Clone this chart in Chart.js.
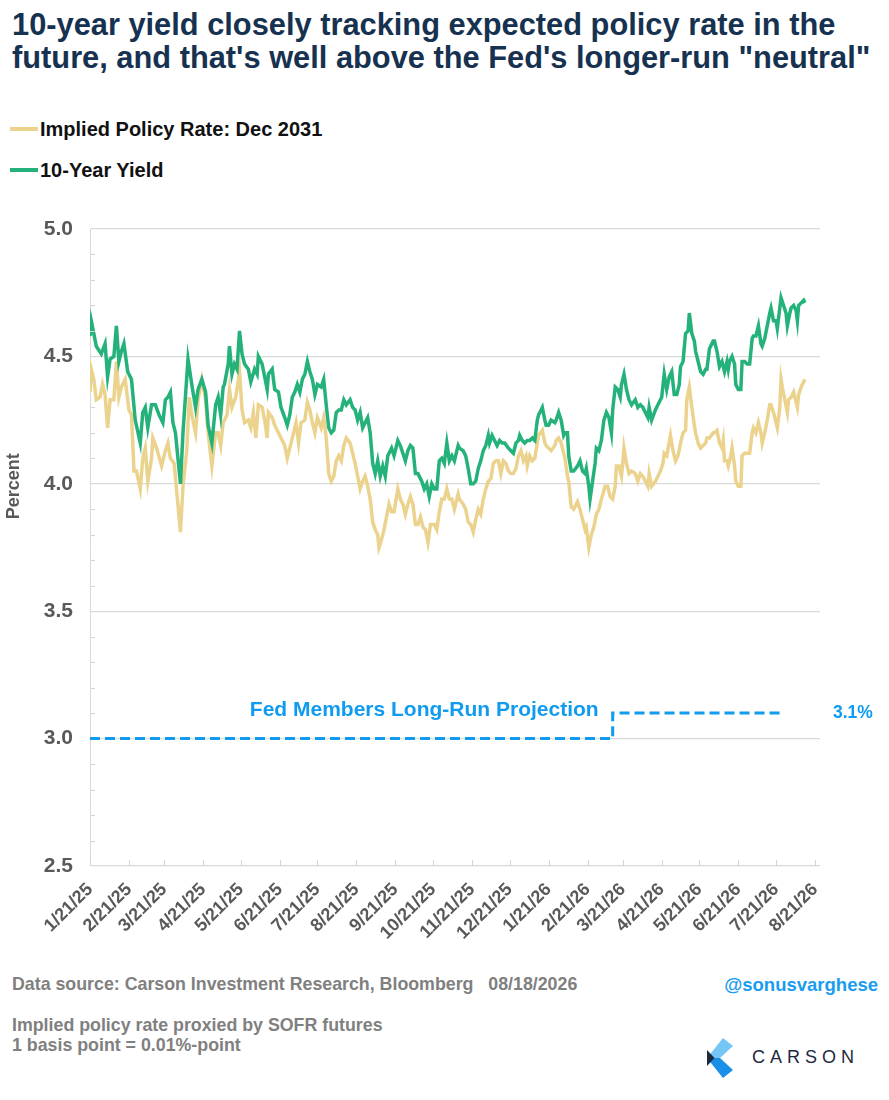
<!DOCTYPE html>
<html>
<head>
<meta charset="utf-8">
<script src="https://cdn.jsdelivr.net/npm/chart.js@4.4.1/dist/chart.umd.min.js"></script>
<style>
  body { margin: 0; background: #fff; font-family: Arial, "Liberation Sans", sans-serif; }
  #page { position: relative; width: 889px; height: 1100px; overflow: hidden; }
  .title { position: absolute; left: 12px; top: 8px; font-size: 30.8px; font-weight: bold; color: #163250; line-height: 33px; white-space: nowrap; }
  .legend { position: absolute; left: 10px; font-size: 20px; font-weight: bold; color: #111; }
  .legend span { display: inline-block; width: 28px; height: 4px; vertical-align: middle; margin-right: 2px; position: relative; top: -2px; }
  #chartBox { position: absolute; left: 0; top: 190px; }
  .foot { position: absolute; left: 12px; font-size: 17.8px; font-weight: bold; color: #808080; white-space: nowrap; }
  .handle { position: absolute; right: 11px; top: 974px; font-size: 18.5px; font-weight: bold; color: #1a9cf0; }
  .logo { position: absolute; left: 705px; top: 1037px; }
  .logo b { position: absolute; left: 47px; top: 10px; font-size: 18px; font-weight: normal; letter-spacing: 5px; color: #1b2a3f; }
</style>
</head>
<body>
<div id="page">
  <div class="title">10-year yield closely tracking expected policy rate in the<br>future, and that's well above the Fed's longer-run "neutral"</div>
  <div class="legend" style="top:118px"><span style="background:#ebd38e"></span>Implied Policy Rate: Dec 2031</div>
  <div class="legend" style="top:159px"><span style="background:#24b27a"></span>10-Year Yield</div>
  <div id="chartBox"><canvas id="chart" width="889" height="770"></canvas></div>
  <div class="foot" style="top:974px">Data source: Carson Investment Research, Bloomberg &nbsp;&nbsp;08/18/2026</div>
  <div class="handle">@sonusvarghese</div>
  <div class="foot" style="top:1015px">Implied policy rate proxied by SOFR futures</div>
  <div class="foot" style="top:1035px">1 basis point = 0.01%-point</div>
  <div class="logo">
    <svg width="32" height="42" viewBox="0 0 32 42">
      <polygon points="2,21 18,1 28,9 15,21" fill="#74c6f7"/>
      <polygon points="2,21 15,21 28,33 18,41" fill="#1a8fe8"/>
      <polygon points="2,13 9.5,21 2,29" fill="#1b2a3f"/>
    </svg>
    <b>CARSON</b>
  </div>
</div>
<script>
// x axis labels (21st of each month)
const xTickLabels = ['1/21/25','2/21/25','3/21/25','4/21/25','5/21/25','6/21/25','7/21/25','8/21/25','9/21/25','10/21/25',
  '11/21/25','12/21/25','1/21/26','2/21/26','3/21/26','4/21/26','5/21/26','6/21/26','7/21/26','8/21/26'];

// 10-year yield
const yieldDates = ['1/21/25','1/22/25','1/26/25','1/30/25','2/2/25','2/4/25','2/6/25','2/9/25','2/11/25','2/13/25','2/15/25','2/17/25','2/20/25','2/23/25','2/26/25',
  '3/2/25','3/4/25','3/6/25','3/8/25','3/11/25','3/14/25','3/17/25','3/20/25','3/22/25','3/24/25','3/26/25','3/28/25','3/30/25',
  '4/3/25','4/5/25','4/9/25','4/12/25','4/15/25','4/17/25','4/20/25','4/23/25','4/25/25','4/28/25',
  '5/1/25','5/3/25','5/5/25','5/7/25','5/8/25','5/11/25','5/12/25','5/14/25','5/16/25','5/18/25','5/20/25','5/22/25','5/24/25','5/27/25','5/29/25',
  '6/1/25','6/3/25','6/4/25','6/7/25','6/9/25','6/11/25','6/12/25','6/15/25','6/17/25','6/20/25','6/22/25','6/25/25','6/27/25','6/29/25',
  '7/1/25','7/3/25','7/5/25','7/7/25','7/9/25','7/11/25','7/13/25','7/15/25','7/17/25','7/19/25','7/21/25','7/24/25','7/26/25','7/28/25','7/30/25',
  '8/1/25','8/3/25','8/5/25','8/7/25','8/9/25','8/11/25','8/13/25','8/16/25','8/18/25','8/20/25','8/22/25','8/24/25','8/26/25','8/28/25','8/30/25',
  '9/1/25','9/3/25','9/5/25','9/7/25','9/9/25','9/11/25','9/13/25','9/15/25','9/18/25','9/20/25','9/23/25','9/25/25','9/27/25','9/29/25',
  '10/1/25','10/3/25','10/5/25','10/7/25','10/9/25','10/12/25','10/14/25','10/16/25','10/18/25','10/20/25','10/22/25','10/24/25','10/26/25','10/28/25','10/30/25',
  '11/1/25','11/3/25','11/5/25','11/7/25','11/10/25','11/11/25','11/14/25','11/16/25','11/18/25','11/20/25','11/22/25','11/24/25','11/26/25','11/28/25','11/30/25',
  '12/2/25','12/4/25','12/5/25','12/7/25','12/9/25','12/11/25','12/13/25','12/15/25','12/17/25','12/20/25','12/22/25','12/24/25','12/26/25','12/28/25','12/29/25','12/31/25',
  '1/2/26','1/4/26','1/6/26','1/8/26','1/10/26','1/12/26','1/13/26','1/16/26','1/18/26','1/19/26','1/21/26','1/23/26','1/26/26','1/27/26','1/29/26','1/31/26',
  '2/2/26','2/3/26','2/5/26','2/6/26','2/8/26','2/10/26','2/13/26','2/15/26','2/17/26','2/19/26','2/20/26','2/22/26','2/23/26','2/25/26','2/27/26','2/28/26',
  '3/2/26','3/4/26','3/6/26','3/8/26','3/10/26','3/12/26','3/13/26','3/15/26','3/17/26','3/19/26','3/20/26','3/22/26','3/24/26','3/26/26','3/28/26','3/31/26',
  '4/2/26','4/4/26','4/6/26','4/8/26','4/10/26','4/11/26','4/13/26','4/16/26','4/18/26','4/20/26','4/21/26','4/23/26','4/25/26','4/27/26','4/29/26',
  '5/1/26','5/3/26','5/5/26','5/6/26','5/8/26','5/10/26','5/12/26','5/13/26','5/15/26','5/17/26','5/18/26','5/20/26','5/22/26','5/24/26','5/26/26','5/27/26','5/29/26',
  '6/1/26','6/2/26','6/4/26','6/6/26','6/8/26','6/9/26','6/10/26','6/12/26','6/13/26','6/14/26','6/16/26','6/18/26','6/19/26','6/21/26','6/23/26','6/24/26','6/26/26','6/28/26','6/30/26',
  '7/2/26','7/3/26','7/5/26','7/7/26','7/9/26','7/10/26','7/12/26','7/14/26','7/16/26','7/17/26','7/19/26','7/21/26','7/22/26','7/24/26','7/25/26','7/27/26','7/29/26','7/30/26',
  '8/1/26','8/2/26','8/4/26','8/6/26','8/7/26','8/8/26','8/10/26','8/12/26','8/13/26'];
const yieldValues = [4.58,4.64,4.54,4.51,4.55,4.42,4.49,4.50,4.62,4.48,4.52,4.55,4.44,4.41,4.25,
  4.16,4.28,4.30,4.22,4.31,4.31,4.27,4.24,4.33,4.34,4.36,4.24,4.20,
  4.00,4.20,4.49,4.39,4.30,4.37,4.41,4.36,4.23,4.16,
  4.31,4.34,4.27,4.38,4.39,4.47,4.54,4.43,4.47,4.45,4.60,4.51,4.47,4.45,4.40,
  4.45,4.43,4.50,4.47,4.42,4.37,4.43,4.45,4.37,4.36,4.30,4.26,4.23,4.27,
  4.34,4.36,4.39,4.36,4.41,4.43,4.48,4.44,4.41,4.35,4.39,4.38,4.41,4.31,4.22,
  4.20,4.21,4.28,4.29,4.29,4.33,4.31,4.33,4.30,4.29,4.25,4.28,4.22,4.24,4.26,
  4.20,4.08,4.04,4.09,4.03,4.07,4.03,4.11,4.14,4.11,4.17,4.15,4.12,4.09,
  4.13,4.15,4.14,4.04,4.04,4.01,3.98,4.00,3.95,4.00,3.98,3.98,4.09,4.10,4.08,
  4.16,4.09,4.11,4.09,4.15,4.14,4.13,4.11,4.06,4.00,4.00,4.01,4.06,4.09,4.13,
  4.15,4.19,4.16,4.19,4.17,4.15,4.17,4.16,4.16,4.14,4.13,4.12,4.16,4.17,4.19,4.17,
  4.16,4.17,4.17,4.18,4.17,4.25,4.27,4.30,4.25,4.23,4.23,4.25,4.24,4.25,4.28,4.25,
  4.19,4.20,4.20,4.11,4.05,4.05,4.07,4.09,4.05,4.04,4.06,3.99,3.94,4.01,4.08,4.14,
  4.13,4.17,4.25,4.28,4.26,4.20,4.29,4.38,4.37,4.34,4.39,4.43,4.37,4.33,4.31,4.33,
  4.30,4.31,4.30,4.28,4.26,4.30,4.25,4.29,4.31,4.33,4.34,4.43,4.37,4.42,4.44,
  4.35,4.35,4.39,4.46,4.48,4.59,4.60,4.67,4.59,4.56,4.52,4.48,4.44,4.43,4.45,4.45,4.53,
  4.56,4.56,4.52,4.46,4.48,4.46,4.44,4.48,4.45,4.48,4.50,4.47,4.39,4.37,4.37,4.48,4.48,4.47,4.47,
  4.57,4.58,4.58,4.62,4.55,4.54,4.57,4.62,4.67,4.69,4.64,4.64,4.61,4.69,4.73,4.70,4.67,4.62,
  4.67,4.69,4.70,4.68,4.64,4.70,4.71,4.72,4.71];

// implied policy rate, Dec 2031 SOFR
const policyDates = ['1/21/25','1/22/25','1/24/25','1/26/25','1/29/25','1/31/25','2/2/25','2/4/25','2/6/25','2/9/25','2/11/25','2/13/25','2/15/25','2/18/25','2/21/25','2/23/25','2/25/25','2/27/25',
  '3/2/25','3/4/25','3/6/25','3/8/25','3/11/25','3/12/25','3/15/25','3/19/25','3/22/25','3/24/25','3/26/25','3/29/25','3/31/25',
  '4/3/25','4/5/25','4/8/25','4/10/25','4/12/25','4/15/25','4/17/25','4/20/25','4/23/25','4/25/25','4/28/25',
  '5/1/25','5/3/25','5/5/25','5/7/25','5/10/25','5/12/25','5/14/25','5/17/25','5/20/25','5/22/25','5/24/25','5/27/25','5/29/25','5/31/25',
  '6/2/25','6/4/25','6/7/25','6/9/25','6/11/25','6/12/25','6/15/25','6/17/25','6/20/25','6/22/25','6/25/25','6/27/25','6/29/25',
  '7/2/25','7/4/25','7/6/25','7/8/25','7/11/25','7/13/25','7/15/25','7/17/25','7/19/25','7/21/25','7/24/25','7/26/25','7/28/25','7/30/25',
  '8/1/25','8/3/25','8/5/25','8/7/25','8/9/25','8/11/25','8/13/25','8/16/25','8/18/25','8/20/25','8/22/25','8/24/25','8/26/25','8/28/25','8/30/25',
  '9/1/25','9/3/25','9/5/25','9/7/25','9/8/25','9/10/25','9/12/25','9/14/25','9/16/25','9/18/25','9/20/25','9/23/25','9/25/25','9/27/25','9/29/25',
  '10/1/25','10/3/25','10/5/25','10/7/25','10/9/25','10/11/25','10/13/25','10/15/25','10/17/25','10/19/25','10/22/25','10/24/25','10/26/25','10/28/25','10/30/25',
  '11/1/25','11/3/25','11/5/25','11/7/25','11/10/25','11/11/25','11/14/25','11/16/25','11/18/25','11/20/25','11/22/25','11/24/25','11/26/25','11/28/25','11/30/25',
  '12/2/25','12/4/25','12/6/25','12/8/25','12/10/25','12/12/25','12/14/25','12/16/25','12/18/25','12/20/25','12/22/25','12/24/25','12/26/25','12/28/25','12/30/25',
  '1/1/26','1/3/26','1/4/26','1/6/26','1/8/26','1/10/26','1/12/26','1/13/26','1/16/26','1/18/26','1/19/26','1/21/26','1/23/26','1/26/26','1/27/26','1/29/26','1/31/26',
  '2/3/26','2/5/26','2/6/26','2/8/26','2/10/26','2/13/26','2/15/26','2/17/26','2/19/26','2/20/26','2/22/26','2/24/26','2/26/26','2/28/26',
  '3/2/26','3/4/26','3/7/26','3/9/26','3/11/26','3/13/26','3/15/26','3/16/26','3/18/26','3/20/26','3/21/26','3/22/26','3/24/26','3/26/26','3/28/26','3/31/26',
  '4/2/26','4/4/26','4/6/26','4/8/26','4/10/26','4/11/26','4/13/26','4/16/26','4/18/26','4/20/26','4/22/26','4/23/26','4/25/26','4/28/26','4/30/26',
  '5/2/26','5/4/26','5/6/26','5/8/26','5/10/26','5/11/26','5/13/26','5/15/26','5/17/26','5/18/26','5/20/26','5/22/26','5/24/26','5/26/26','5/27/26','5/29/26',
  '6/1/26','6/2/26','6/4/26','6/6/26','6/8/26','6/9/26','6/10/26','6/12/26','6/13/26','6/15/26','6/16/26','6/18/26','6/19/26','6/21/26','6/23/26','6/24/26','6/26/26','6/28/26','6/30/26',
  '7/2/26','7/3/26','7/5/26','7/7/26','7/9/26','7/10/26','7/12/26','7/14/26','7/16/26','7/17/26','7/19/26','7/21/26','7/22/26','7/24/26','7/25/26','7/26/26','7/28/26','7/30/26','7/31/26',
  '8/2/26','8/4/26','8/5/26','8/7/26','8/8/26','8/10/26','8/12/26','8/13/26'];
const policyValues = [4.36,4.45,4.41,4.33,4.34,4.39,4.35,4.22,4.33,4.33,4.48,4.34,4.38,4.41,4.29,4.27,4.05,4.05,
  3.98,4.10,4.14,4.01,4.10,4.18,4.14,4.07,4.13,4.16,4.10,4.08,3.97,
  3.81,3.99,4.13,4.34,4.27,4.20,4.33,4.41,4.33,4.20,4.07,
  4.20,4.20,4.15,4.24,4.27,4.37,4.30,4.34,4.44,4.29,4.24,4.25,4.22,4.28,
  4.18,4.31,4.30,4.25,4.18,4.28,4.26,4.23,4.20,4.18,4.15,4.10,4.14,
  4.20,4.24,4.16,4.24,4.25,4.32,4.29,4.24,4.20,4.26,4.22,4.26,4.18,4.04,
  4.01,4.03,4.09,4.11,4.09,4.15,4.18,4.16,4.12,4.08,4.03,3.98,4.01,4.03,3.99,
  3.94,3.85,3.82,3.80,3.75,3.78,3.82,3.87,3.92,3.89,3.89,3.98,3.94,3.92,3.88,
  3.92,3.95,3.92,3.84,3.84,3.87,3.83,3.82,3.77,3.84,3.84,3.82,3.89,3.94,3.94,
  3.98,3.94,3.94,3.90,3.96,3.94,3.92,3.90,3.85,3.84,3.81,3.86,3.90,3.88,3.94,
  3.98,4.01,4.02,4.08,4.09,4.09,4.04,4.09,4.08,4.05,4.04,4.04,4.06,4.11,4.13,
  4.09,4.11,4.07,4.11,4.09,4.10,4.16,4.19,4.21,4.16,4.15,4.14,4.13,4.15,4.17,4.18,4.16,
  4.10,4.03,4.01,3.91,3.90,3.93,3.90,3.86,3.82,3.83,3.75,3.80,3.83,3.88,
  3.90,3.94,3.99,3.99,3.95,3.94,3.99,4.07,4.07,4.03,4.08,4.14,4.08,4.04,4.05,4.04,
  4.01,4.04,4.03,4.01,3.99,4.04,3.99,4.01,4.03,4.05,4.08,4.12,4.11,4.19,4.13,
  4.09,4.11,4.16,4.20,4.21,4.33,4.38,4.30,4.23,4.20,4.16,4.14,4.15,4.16,4.18,4.18,
  4.20,4.20,4.21,4.16,4.14,4.17,4.09,4.09,4.07,4.11,4.14,4.07,4.01,3.99,3.99,4.11,4.12,4.12,4.12,
  4.20,4.22,4.20,4.24,4.20,4.16,4.20,4.25,4.31,4.31,4.28,4.24,4.22,4.30,4.41,4.38,4.33,4.28,4.33,
  4.34,4.36,4.34,4.30,4.35,4.38,4.40,4.41];

// Fed members' longer-run projection (steps up at the March SEP)
const fedDates = ['1/21/25','3/13/26','7/24/26'];
const fedRates = [3.0, 3.1, 3.1];

const DAY_MS = 86400000;
function toDay(s) {
    const [m, d, y] = s.split('/').map(Number);
    return Date.UTC(2000 + y, m - 1, d) / DAY_MS;
}
const pairs = (dates, vals) => dates.map((d, i) => ({ x: toDay(d), y: vals[i] }));

const GRAY = '#595959';
const BLUE = '#0f9cf0';
const FONT = 'Arial, "Liberation Sans"';

// inward tick marks, the y title and the blue annotations
const extras = {
    id: 'extras',
    afterDraw(chart) {
        const { ctx, chartArea: a, scales: { x, y } } = chart;
        ctx.save();
        ctx.strokeStyle = '#d4d4d4';
        ctx.lineWidth = 1;
        for (let v = 26; v < 50; v++) {
            if (v % 5 === 0) continue;
            const py = Math.round(y.getPixelForValue(v / 10)) + 0.5;
            ctx.beginPath(); ctx.moveTo(a.left, py); ctx.lineTo(a.left + 5, py); ctx.stroke();
        }
        xTickLabels.forEach(l => {
            const px = Math.round(x.getPixelForValue(toDay(l))) + 0.5;
            ctx.beginPath(); ctx.moveTo(px, a.bottom); ctx.lineTo(px, a.bottom - 6); ctx.stroke();
        });

        // y title sits near the 4.0 line in the original
        ctx.save();
        ctx.translate(14, y.getPixelForValue(3.99));
        ctx.rotate(-Math.PI / 2);
        ctx.fillStyle = GRAY;
        ctx.font = 'bold 18px ' + FONT;
        ctx.textAlign = 'center';
        ctx.textBaseline = 'middle';
        ctx.fillText('Percent', 0, 0);
        ctx.restore();

        ctx.fillStyle = BLUE;
        ctx.textBaseline = 'middle';
        ctx.textAlign = 'right';
        ctx.font = 'bold 21px ' + FONT;
        ctx.fillText('Fed Members Long-Run Projection', x.getPixelForValue(toDay(fedDates[1])) - 14, y.getPixelForValue(fedRates[1]) - 3);
        ctx.textAlign = 'left';
        ctx.font = 'bold 17.5px ' + FONT;
        ctx.fillText('3.1%', a.right + 13, y.getPixelForValue(fedRates[2]));
        ctx.restore();
    }
};

new Chart(document.getElementById('chart'), {
    type: 'line',
    data: {
        datasets: [{
            label: '10-Year Yield',
            data: pairs(yieldDates, yieldValues),
            borderColor: '#24b27a',
            borderWidth: 3.5,
            order: 1
        }, {
            label: 'Implied Policy Rate: Dec 2031',
            data: pairs(policyDates, policyValues),
            borderColor: '#ebd38e',
            borderWidth: 3.5,
            order: 2
        }, {
            label: 'Fed Members Long-Run Projection',
            data: pairs(fedDates, fedRates),
            borderColor: BLUE,
            borderWidth: 3,
            borderDash: [10, 5],
            stepped: 'before',
            order: 3
        }]
    },
    options: {
        responsive: false,
        animation: false,
        elements: { point: { radius: 0 }, line: { tension: 0 } },
        layout: { padding: { top: 39, right: 69, left: 0, bottom: 0 } },
        plugins: { legend: { display: false }, tooltip: { enabled: false } },
        scales: {
            x: {
                type: 'linear',
                min: toDay('1/21/25'),
                max: toDay('8/21/26') + 4,
                afterBuildTicks: s => { s.ticks = xTickLabels.map(l => ({ value: toDay(l) })); },
                afterFit: s => { s.height = 94; },
                grid: { display: false },
                border: { display: false },
                ticks: {
                    autoSkip: false,
                    minRotation: 45,
                    maxRotation: 45,
                    padding: 5,
                    color: GRAY,
                    font: { family: FONT, size: 18, weight: 'bold' },
                    callback: (v, i) => xTickLabels[i]
                }
            },
            y: {
                min: 2.5,
                max: 5.0,
                afterFit: s => { s.width = 90; },
                grid: { color: '#d9d9d9', lineWidth: 1.2, drawTicks: false },
                border: { display: true, color: '#d9d9d9' },
                ticks: {
                    stepSize: 0.5,
                    padding: 17,
                    color: GRAY,
                    font: { family: FONT, size: 21, weight: 'bold' },
                    callback: v => v.toFixed(1)
                }
            }
        }
    },
    plugins: [extras]
});
</script>
</body>
</html>
